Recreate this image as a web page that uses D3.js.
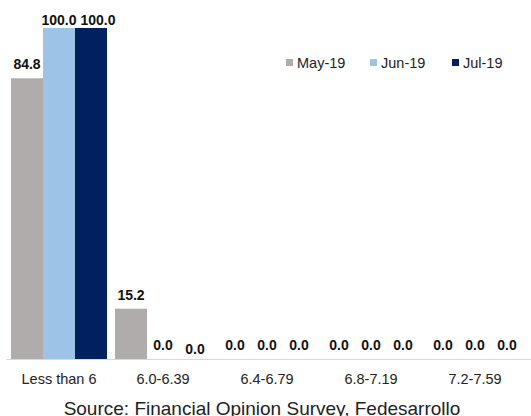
<!DOCTYPE html>
<html>
<head>
<meta charset="utf-8">
<script src="https://cdn.jsdelivr.net/npm/d3@7"></script>
<style>
  body { margin: 0; background: #fff; }
  text { font-family: "Liberation Sans", Arial, sans-serif; }
</style>
</head>
<body>
<script>
// categorias y valores (porcentaje de respuestas)
const categorias = ["Less than 6", "6.0-6.39", "6.4-6.79", "6.8-7.19", "7.2-7.59"];
const series = ["May-19", "Jun-19", "Jul-19"];
const may19 = [84.8, 15.2, 0.0, 0.0, 0.0];
const jun19 = [100.0, 0.0, 0.0, 0.0, 0.0];
const jul19 = [100.0, 0.0, 0.0, 0.0, 0.0];
const colores = ["#b0acab", "#9dc3e6", "#002060"];

let width = 531, height = 416;
let margin = { top: 28, bottom: 57, left: 7, right: 4 };

const valores = [may19, jun19, jul19];
let datos = [];
categorias.forEach(function (c, i) {
    series.forEach(function (s, j) {
        datos.push({ cat: c, serie: s, j: j, valor: valores[j][i] });
    });
});

// ajustes manuales de etiquetas, como en el grafico original (dx, dy)
function ajuste(d) {
    if (d.cat === "Less than 6" && d.valor === 100) return d.serie === "Jul-19" ? [7, 6] : [0, 6];
    if (d.cat === "6.0-6.39" && d.serie === "Jul-19") return [0, 4];
    return [0, 0];
}

let svg = d3.select("body").append("svg")
    .attr("width", width)
    .attr("height", height);

/* Escalas */
let escalaX = d3.scaleBand()
    .domain(categorias)
    .range([margin.left, width - margin.right])
    .paddingInner(0.077)
    .paddingOuter(0.0385);

let escalaSerie = d3.scaleBand()
    .domain(series)
    .range([0, escalaX.bandwidth()]);

let escalaY = d3.scaleLinear()
    .domain([0, 100])
    .range([height - margin.bottom, margin.top]);

/* Barras */
svg.selectAll("rect.barra")
    .data(datos)
    .join("rect")
    .attr("class", "barra")
    .attr("x", d => escalaX(d.cat) + escalaSerie(d.serie))
    .attr("y", d => escalaY(d.valor))
    .attr("width", escalaSerie.bandwidth())
    .attr("height", d => escalaY(0) - escalaY(d.valor))
    .attr("fill", d => colores[d.j]);

/* Etiquetas de valores */
svg.selectAll("text.valor")
    .data(datos)
    .join("text")
    .attr("class", "valor")
    .attr("x", d => escalaX(d.cat) + escalaSerie(d.serie) + escalaSerie.bandwidth() / 2)
    .attr("y", d => escalaY(d.valor) - 9)
    .attr("dx", d => ajuste(d)[0])
    .attr("dy", d => ajuste(d)[1])
    .attr("text-anchor", "middle")
    .style("font-size", "14px")
    .style("font-weight", "bold")
    .style("fill", "#111")
    .text(d => d.valor.toFixed(1));

/* Eje X */
let ejeX = d3.axisBottom(escalaX).tickSize(0).tickPadding(15);
let gEje = svg.append("g")
    .attr("transform", "translate(0," + escalaY(0) + ")")
    .call(ejeX);
gEje.select(".domain").attr("stroke", "#d9d9d9").attr("d", "M" + (margin.left - 1) + ",0.5H" + width);
gEje.selectAll("text")
    .style("font-family", "'Liberation Sans', Arial, sans-serif")
    .style("font-size", "14.5px")
    .style("fill", "#222");

/* Leyenda */
const leyendaX = [286, 370, 452];
let leyenda = svg.selectAll("g.leyenda")
    .data(series)
    .join("g")
    .attr("class", "leyenda")
    .attr("transform", (d, i) => "translate(" + leyendaX[i] + ",59)");
leyenda.append("rect")
    .attr("width", 7).attr("height", 7)
    .attr("fill", (d, i) => colores[i]);
leyenda.append("text")
    .attr("x", 11).attr("y", 9)
    .style("font-size", "14.5px")
    .style("fill", "#222")
    .text(d => d);

/* Fuente */
svg.append("text")
    .attr("x", 262)
    .attr("y", 415)
    .attr("text-anchor", "middle")
    .style("font-size", "19px")
    .style("fill", "#222")
    .text("Source: Financial Opinion Survey, Fedesarrollo");
</script>
</body>
</html>
